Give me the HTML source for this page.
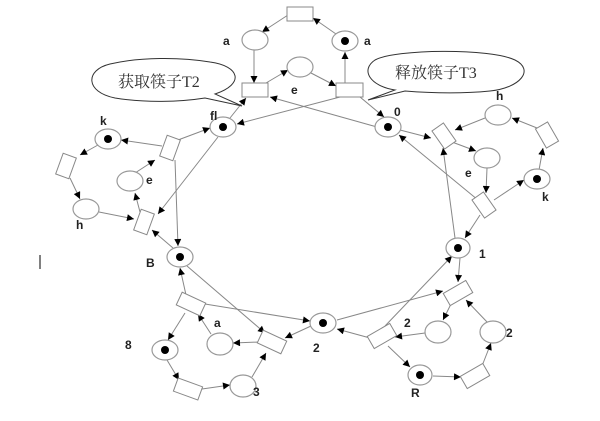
<!DOCTYPE html>
<html><head><meta charset="utf-8"><style>
html,body{margin:0;padding:0;background:#fff;}
svg{display:block;}
text{font-family:"Liberation Sans","Noto Sans CJK SC",sans-serif;}
</style></head><body>
<svg width="600" height="421" viewBox="0 0 600 421" xmlns="http://www.w3.org/2000/svg">
<defs>
<marker id="a" viewBox="0 0 10 10" refX="10" refY="5" markerWidth="9" markerHeight="7" orient="auto" markerUnits="userSpaceOnUse">
<path d="M0,0 L10,5 L0,10 z" fill="#000"/></marker>
</defs>
<g stroke="#888" stroke-width="1" fill="none" marker-end="url(#a)">
<line x1="288" y1="15" x2="262" y2="32"/>
<line x1="336" y1="34" x2="313" y2="18"/>
<line x1="254" y1="50" x2="254" y2="83"/>
<line x1="266" y1="83" x2="288" y2="70"/>
<line x1="311" y1="73" x2="336" y2="86"/>
<line x1="345" y1="83" x2="345" y2="52"/>
<line x1="340" y1="97" x2="237" y2="124"/>
<line x1="377" y1="127" x2="270" y2="97"/>
<line x1="360" y1="97" x2="384" y2="117"/>
<line x1="230" y1="118" x2="246" y2="98"/>
<line x1="162" y1="146" x2="121" y2="140"/>
<line x1="178" y1="140" x2="210" y2="128"/>
<line x1="98" y1="145" x2="80" y2="155"/>
<line x1="70" y1="178" x2="80" y2="199"/>
<line x1="99" y1="212" x2="134" y2="219"/>
<line x1="140" y1="212" x2="135" y2="193"/>
<line x1="135" y1="173" x2="155" y2="160"/>
<line x1="218" y1="137" x2="158" y2="214"/>
<line x1="175" y1="160" x2="178" y2="246"/>
<line x1="173" y1="248" x2="152" y2="230"/>
<line x1="400" y1="130" x2="431" y2="138"/>
<line x1="485" y1="118" x2="455" y2="130"/>
<line x1="452" y1="142" x2="476" y2="151"/>
<line x1="487" y1="168" x2="486" y2="193"/>
<line x1="494" y1="200" x2="524" y2="180"/>
<line x1="539" y1="170" x2="543" y2="148"/>
<line x1="537" y1="128" x2="512" y2="118"/>
<line x1="478" y1="200" x2="399" y2="135"/>
<line x1="455" y1="238" x2="443" y2="148"/>
<line x1="480" y1="215" x2="465" y2="238"/>
<line x1="460" y1="258" x2="458" y2="282"/>
<line x1="452" y1="302" x2="443" y2="320"/>
<line x1="488" y1="323" x2="466" y2="300"/>
<line x1="385" y1="326" x2="452" y2="256"/>
<line x1="425" y1="333" x2="395" y2="337"/>
<line x1="370" y1="338" x2="337" y2="329"/>
<line x1="388" y1="346" x2="410" y2="367"/>
<line x1="433" y1="376" x2="461" y2="377"/>
<line x1="482" y1="366" x2="491" y2="343"/>
<line x1="337" y1="320" x2="443" y2="291"/>
<line x1="187" y1="266" x2="265" y2="333"/>
<line x1="186" y1="295" x2="180" y2="268"/>
<line x1="205" y1="304" x2="310" y2="321"/>
<line x1="311" y1="326" x2="285" y2="338"/>
<line x1="259" y1="342" x2="233" y2="343"/>
<line x1="211" y1="334" x2="198" y2="314"/>
<line x1="185" y1="313" x2="168" y2="340"/>
<line x1="167" y1="360" x2="179" y2="380"/>
<line x1="202" y1="389" x2="230" y2="385"/>
<line x1="252" y1="377" x2="266" y2="353"/>
</g>
<g fill="#fff" stroke="#888" stroke-width="1">
<rect x="287" y="7" width="26" height="14"/>
<rect x="242" y="83" width="26" height="14"/>
<rect x="336" y="83" width="27" height="14"/>
<rect x="-7" y="-11" width="14" height="22" transform="translate(170,148) rotate(20)"/>
<rect x="-7" y="-11" width="14" height="22" transform="translate(66,166) rotate(20)"/>
<rect x="-7" y="-11" width="14" height="22" transform="translate(144,222) rotate(20)"/>
<rect x="-7" y="-11" width="14" height="22" transform="translate(444,136) rotate(-35)"/>
<rect x="-7" y="-11" width="14" height="22" transform="translate(547,135) rotate(-30)"/>
<rect x="-7" y="-11" width="14" height="22" transform="translate(484,205) rotate(-35)"/>
<rect x="-13" y="-7" width="26" height="14" transform="translate(191,304) rotate(25)"/>
<rect x="-13" y="-7" width="26" height="14" transform="translate(272,342) rotate(25)"/>
<rect x="-13" y="-7" width="26" height="14" transform="translate(188,389) rotate(20)"/>
<rect x="-13" y="-7" width="26" height="14" transform="translate(382,336) rotate(-30)"/>
<rect x="-13" y="-7" width="26" height="14" transform="translate(458,293) rotate(-30)"/>
<rect x="-13" y="-7" width="26" height="14" transform="translate(475,376) rotate(-30)"/>
</g>
<g fill="#fff" stroke="#999" stroke-width="1.2">
<ellipse cx="255" cy="40" rx="13" ry="10"/>
<ellipse cx="345" cy="41" rx="13" ry="10"/>
<ellipse cx="300" cy="67" rx="13" ry="10"/>
<ellipse cx="223" cy="127" rx="13" ry="10"/>
<ellipse cx="388" cy="127" rx="13" ry="10"/>
<ellipse cx="108" cy="139" rx="13" ry="10"/>
<ellipse cx="86" cy="209" rx="13" ry="10"/>
<ellipse cx="130" cy="181" rx="13" ry="10"/>
<ellipse cx="180" cy="257" rx="13" ry="10"/>
<ellipse cx="498" cy="115" rx="13" ry="10"/>
<ellipse cx="487" cy="158" rx="13" ry="10"/>
<ellipse cx="537" cy="179" rx="13" ry="10"/>
<ellipse cx="458" cy="248" rx="12" ry="10"/>
<ellipse cx="165" cy="350" rx="13" ry="10"/>
<ellipse cx="220" cy="344" rx="13" ry="11"/>
<ellipse cx="243" cy="386" rx="13" ry="11"/>
<ellipse cx="323" cy="323" rx="13" ry="10"/>
<ellipse cx="438" cy="332" rx="13" ry="11"/>
<ellipse cx="493" cy="332" rx="13" ry="11"/>
<ellipse cx="420" cy="375" rx="12" ry="10"/>
</g>
<g fill="#000">
<circle cx="345" cy="41" r="4"/>
<circle cx="223" cy="127" r="4"/>
<circle cx="388" cy="127" r="4"/>
<circle cx="108" cy="139" r="4"/>
<circle cx="180" cy="257" r="4"/>
<circle cx="537" cy="179" r="4"/>
<circle cx="458" cy="248" r="4"/>
<circle cx="165" cy="350" r="4"/>
<circle cx="323" cy="323" r="4"/>
<circle cx="420" cy="375" r="4"/>
</g>
<path d="M215,94 C245,84 240,66 210,62 C180,57 140,57 110,64 C85,70 85,92 115,98 C145,103 180,102 205,98 L242,106 Z" fill="#fff" stroke="#333" stroke-width="1"/>
<text x="118" y="87" font-size="16" fill="#333" style="font-family:'Liberation Serif','Noto Serif CJK SC',serif">获取筷子T2</text>
<path d="M395,90 C370,86 360,70 375,60 C395,49 490,48 515,60 C535,70 520,88 490,91 C460,94 430,93 405,91 L368,100 Z" fill="#fff" stroke="#333" stroke-width="1"/>
<text x="395" y="78" font-size="16" fill="#333" style="font-family:'Liberation Serif','Noto Serif CJK SC',serif">释放筷子T3</text>
<g font-size="12" font-weight="bold" fill="#222">
<text x="223" y="45">a</text>
<text x="364" y="45">a</text>
<text x="291" y="94">e</text>
<text x="210" y="120">fl</text>
<text x="394" y="116">0</text>
<text x="100" y="125">k</text>
<text x="146" y="184">e</text>
<text x="76" y="229">h</text>
<text x="146" y="267">B</text>
<text x="496" y="100">h</text>
<text x="465" y="177">e</text>
<text x="542" y="201">k</text>
<text x="479" y="258">1</text>
<text x="125" y="349">8</text>
<text x="214" y="327">a</text>
<text x="253" y="396">3</text>
<text x="313" y="352">2</text>
<text x="404" y="327">2</text>
<text x="506" y="337">2</text>
<text x="411" y="397">R</text>
</g>
<line x1="40" y1="255" x2="40" y2="269" stroke="#000" stroke-width="1"/>
</svg>
</body></html>
